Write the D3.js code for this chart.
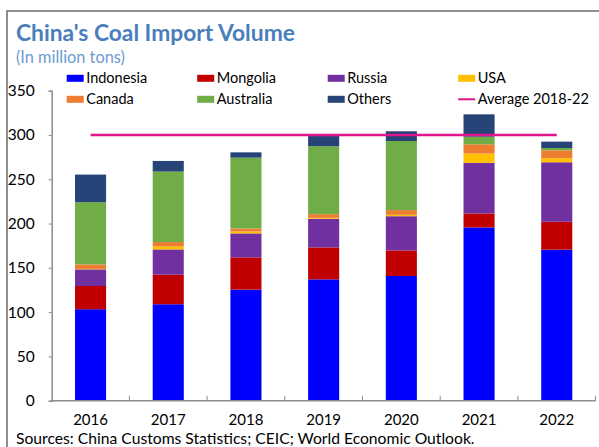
<!DOCTYPE html>
<html>
<head>
<meta charset="utf-8">
<script src="https://cdn.jsdelivr.net/npm/d3@7"></script>
<style>
  body { margin: 0; background: #fff; }
  svg { display: block; font-family: Lato, "Open Sans", sans-serif; }
</style>
</head>
<body>
<svg id="chart" width="599" height="447"></svg>
<script>
// data (million tons)
var years = ["2016", "2017", "2018", "2019", "2020", "2021", "2022"];
var indonesia = [103.3, 108.9, 125.4, 137.0, 140.8, 195.6, 170.5];
var mongolia  = [26.2, 33.4, 36.4, 36.1, 28.9, 15.8, 31.5];
var russia    = [18.8, 28.5, 27.1, 32.3, 38.6, 57.1, 67.2];
var usa       = [0.5, 3.4, 2.2, 1.1, 1.6, 10.5, 4.5];
var canada    = [5.1, 4.9, 3.4, 4.1, 5.3, 10.5, 9.0];
var australia = [70.2, 79.6, 79.9, 76.7, 78.0, 8.6, 2.6];
var others    = [31.2, 12.0, 6.0, 11.5, 11.0, 25.2, 7.2];
var average   = [300, 300, 300, 300, 300, 300, 300];
var yTicks = [0, 50, 100, 150, 200, 250, 300, 350];

var seriesNames = ["Indonesia", "Mongolia", "Russia", "USA", "Canada", "Australia", "Others"];
var seriesValues = [indonesia, mongolia, russia, usa, canada, australia, others];
var colors = {
  Indonesia: "#0000ff", Mongolia: "#c00000", Russia: "#7030a0", USA: "#ffc000",
  Canada: "#ed7d31", Australia: "#70ad47", Others: "#264478"
};
var avgColor = "#e0148c";

var svg = d3.select("#chart");

// frame
svg.append("path")
    .attr("d", "M7,460V11H610")
    .attr("fill", "none")
    .attr("stroke", "#6b6b6b")
    .attr("stroke-width", 1.5);

// fit a text node to a target width
function fit(sel, target) {
  var w = sel.node().getComputedTextLength();
  var fs = parseFloat(sel.attr("font-size"));
  sel.attr("font-size", fs * target / w);
}

var title = svg.append("text")
    .attr("x", 16).attr("y", 40.5)
    .attr("font-size", 22).attr("font-weight", "bold")
    .attr("fill", "#4a7ebb")
    .text("China's Coal Import Volume");
fit(title, 279);

var sub = svg.append("text")
    .attr("x", 16).attr("y", 63)
    .attr("font-size", 16)
    .attr("fill", "#6d9bd1")
    .text("(In million tons)");
fit(sub, 109);

// scales
var x = d3.scaleBand().domain(years).range([51.7, 595.6]).paddingInner(0.6).paddingOuter(0.3);
var xCat = d3.scaleBand().domain(years).range([51.7, 595.6]);
var y = d3.scaleLinear().domain([0, 350]).range([400.7, 90.7]);

// stacked bars
var table = years.map(function(yr, i) {
  var row = { year: yr };
  seriesNames.forEach(function(n, k) { row[n] = seriesValues[k][i]; });
  return row;
});
var stacked = d3.stack().keys(seriesNames)(table);

svg.append("g").selectAll("g")
    .data(stacked)
    .join("g")
    .attr("fill", function(d) { return colors[d.key]; })
  .selectAll("rect")
    .data(function(d) { return d; })
    .join("rect")
    .attr("x", function(d) { return x(d.data.year); })
    .attr("y", function(d) { return y(d[1]); })
    .attr("height", function(d) { return y(d[0]) - y(d[1]); })
    .attr("width", x.bandwidth());

// average line
var avgLine = d3.line()
    .x(function(d, i) { return xCat(years[i]) + xCat.bandwidth() / 2; })
    .y(function(d) { return y(d); });
svg.append("path")
    .datum(average)
    .attr("fill", "none")
    .attr("stroke", avgColor)
    .attr("stroke-width", 2.5)
    .attr("d", avgLine);

// y axis
var yAxis = d3.axisLeft(y).tickValues(yTicks).tickSize(3).tickPadding(14);
var gy = svg.append("g")
    .attr("transform", "translate(51.7,0)")
    .call(yAxis);
gy.select(".domain").attr("stroke", "#8c8c8c").attr("stroke-width", 1.5);
gy.selectAll(".tick line").attr("stroke", "#8c8c8c");
gy.selectAll(".tick text")
    .attr("font-size", 15.5).attr("fill", "#000")
    .attr("font-family", "Lato, sans-serif");

// x axis: ticks at category boundaries, pointing up
var gx = svg.append("g").attr("transform", "translate(0,400.7)");
gx.append("line")
    .attr("x1", 51.7).attr("x2", 595.6)
    .attr("stroke", "#8c8c8c").attr("stroke-width", 1.5);
gx.selectAll("line.sep")
    .data(years)
    .join("line")
    .attr("class", "sep")
    .attr("x1", function(d) { return xCat(d) + xCat.bandwidth(); })
    .attr("x2", function(d) { return xCat(d) + xCat.bandwidth(); })
    .attr("y1", 0).attr("y2", -5)
    .attr("stroke", "#8c8c8c");
gx.selectAll("text")
    .data(years)
    .join("text")
    .attr("x", function(d) { return xCat(d) + xCat.bandwidth() / 2; })
    .attr("y", 24.3)
    .attr("text-anchor", "middle")
    .attr("font-size", 15)
    .text(function(d) { return d; });

// legend
var legendItems = seriesNames.concat(["Average 2018-22"]);
var legend = svg.append("g").selectAll("g")
    .data(legendItems)
    .join("g")
    .attr("transform", function(d, i) {
      return "translate(" + (66.7 + (i % 4) * 130.5) + "," + (78.3 + Math.floor(i / 4) * 21) + ")";
    });
legend.each(function(d) {
  var g = d3.select(this);
  if (colors[d]) {
    g.append("rect").attr("x", 0).attr("y", -3.5).attr("width", 17).attr("height", 7).attr("fill", colors[d]);
  } else {
    g.append("line").attr("x1", 0).attr("x2", 17).attr("stroke", avgColor).attr("stroke-width", 2);
  }
  g.append("text")
      .attr("x", 19.5).attr("dy", "0.35em")
      .attr("font-size", 14.5)
      .text(d);
});

var src = svg.append("text")
    .attr("x", 16).attr("y", 443.5)
    .attr("font-size", 16)
    .text("Sources: China Customs Statistics; CEIC; World Economic Outlook.");
fit(src, 459);
</script>
</body>
</html>
